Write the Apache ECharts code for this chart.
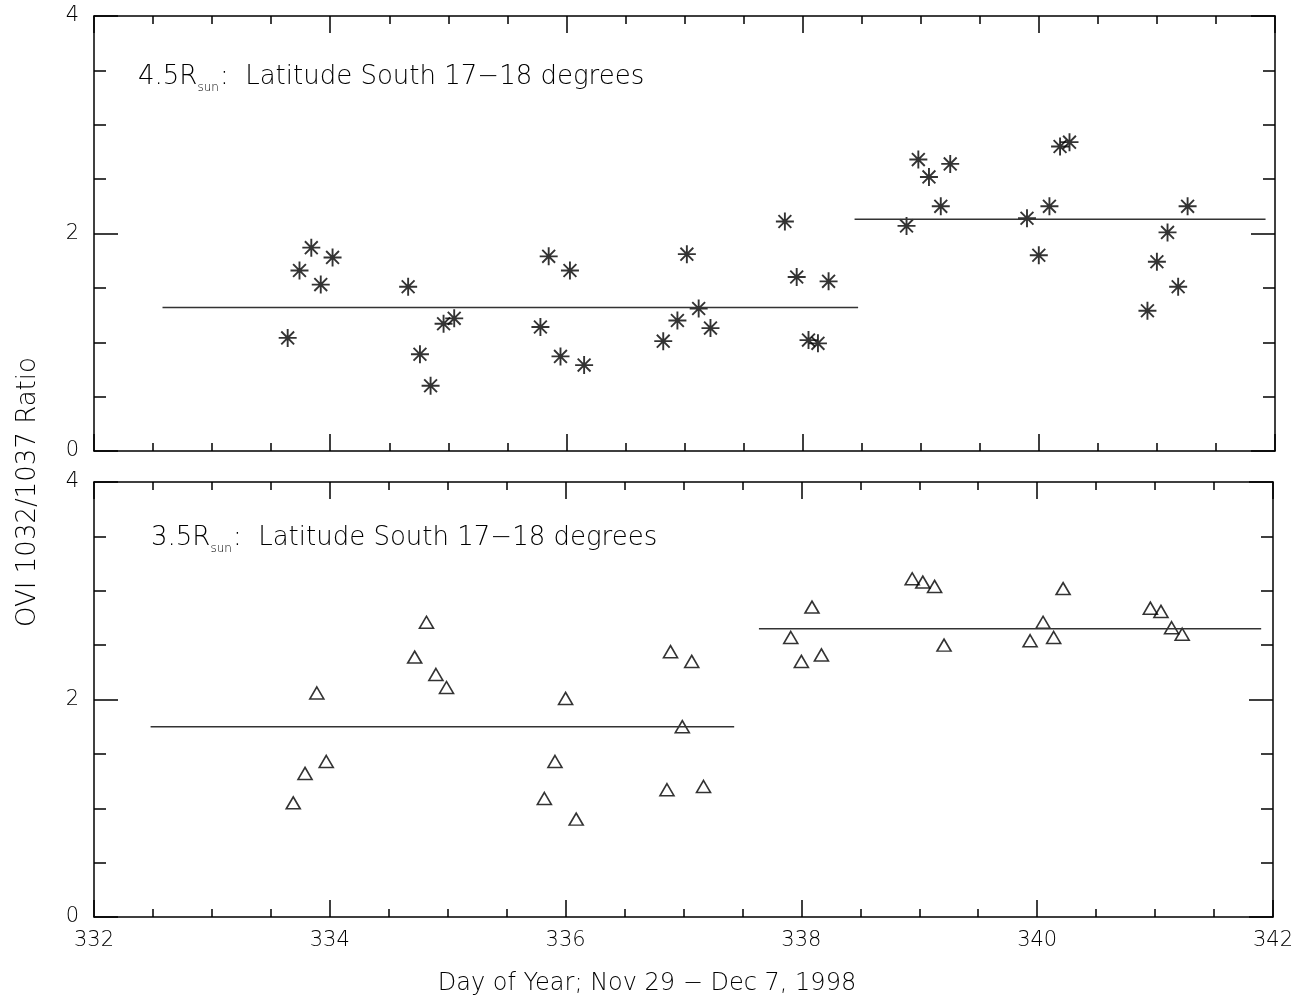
<!DOCTYPE html>
<html lang="en">
<head>
  <meta charset="UTF-8">
  <title>OVI 1032/1037 Ratio</title>
  <script src="https://cdn.jsdelivr.net/npm/echarts@6/dist/echarts.min.js"></script>
</head>
<body style="margin:0">
  <div id="main" style="width:1296px;height:995px;"></div>
  <script>
    // 4.5 Rsun (asterisks)
    var dayTop = [333.64, 333.74, 333.84, 333.92, 334.02, 334.66, 334.76, 334.85, 334.96, 335.05,
      335.78, 335.85, 335.95, 336.03, 336.15, 336.82, 336.94, 337.02, 337.12, 337.22,
      337.85, 337.95, 338.05, 338.13, 338.22, 338.88, 338.98, 339.07, 339.17, 339.25,
      339.90, 340.00, 340.09, 340.18, 340.26, 340.92, 341.00, 341.09, 341.18, 341.26];
    var ratioTop = [1.04, 1.66, 1.87, 1.53, 1.78, 1.51, 0.89, 0.60, 1.17, 1.22,
      1.14, 1.79, 0.87, 1.66, 0.79, 1.01, 1.20, 1.81, 1.31, 1.13,
      2.11, 1.60, 1.02, 0.99, 1.56, 2.07, 2.68, 2.52, 2.25, 2.64,
      2.14, 1.80, 2.25, 2.80, 2.84, 1.29, 1.74, 2.01, 1.51, 2.25];
    // 3.5 Rsun (triangles)
    var dayBot = [333.69, 333.79, 333.89, 333.97, 334.72, 334.82, 334.90, 334.99,
      335.82, 335.91, 336.00, 336.09, 336.86, 336.89, 336.99, 337.07, 337.17,
      337.91, 338.00, 338.09, 338.17, 338.94, 339.03, 339.13, 339.21,
      339.94, 340.05, 340.14, 340.22, 340.96, 341.05, 341.14, 341.23];
    var ratioBot = [1.05, 1.32, 2.06, 1.43, 2.39, 2.71, 2.23, 2.11,
      1.09, 1.43, 2.01, 0.90, 1.17, 2.44, 1.75, 2.35, 1.20,
      2.57, 2.35, 2.85, 2.41, 3.11, 3.08, 3.04, 2.50,
      2.54, 2.71, 2.57, 3.02, 2.84, 2.81, 2.66, 2.60];
    // mean levels: [start day, end day, value]
    var meanTop = [[332.58, 338.47, 1.32], [338.44, 341.92, 2.13]];
    var meanBot = [[332.48, 337.43, 1.75], [337.64, 341.90, 2.65]];
    var xTicks = [332, 334, 336, 338, 340, 342];
    var yTicks = [0, 2, 4];

    var font = 'DejaVu Sans';
    var asterisk = 'path://M0,-8L0,8M-8,0L8,0M-5.7,-5.7L5.7,5.7M-5.7,5.7L5.7,-5.7';

    function pairs(xs, ys) {
      return xs.map(function (x, i) { return [x, ys[i]]; });
    }

    function xAxisCfg(grid, pos, labels) {
      return {
        type: 'value', gridIndex: grid, position: pos,
        min: xTicks[0], max: xTicks[xTicks.length - 1], interval: 2,
        axisLine: { onZero: false, lineStyle: { color: '#000', width: 1.5 } },
        axisTick: { inside: true, length: 17, lineStyle: { color: '#000', width: 1.5 } },
        minorTick: { show: true, splitNumber: 4, length: 8, lineStyle: { color: '#000', width: 1.5 } },
        axisLabel: { show: labels, margin: 13, color: '#000', fontSize: 21, fontFamily: font, fontWeight: 200 },
        splitLine: { show: false }
      };
    }

    function yAxisCfg(grid, pos, labels) {
      return {
        type: 'value', gridIndex: grid, position: pos,
        min: yTicks[0], max: yTicks[yTicks.length - 1], interval: 2,
        axisLine: { onZero: false, lineStyle: { color: '#000', width: 1.5 } },
        axisTick: { inside: true, length: 24, lineStyle: { color: '#000', width: 1.5 } },
        minorTick: { show: true, splitNumber: 4, length: 12, lineStyle: { color: '#000', width: 1.5 } },
        axisLabel: { show: labels, margin: 15, color: '#000', fontSize: 21, fontFamily: font, fontWeight: 200 },
        splitLine: { show: false }
      };
    }

    function meanSeries(segs, x, y) {
      return segs.map(function (s) {
        return {
          type: 'line', xAxisIndex: x, yAxisIndex: y, symbol: 'none', silent: true,
          lineStyle: { color: '#333', width: 1.5 },
          data: [[s[0], s[2]], [s[1], s[2]]]
        };
      });
    }

    function panelTitle(txt, left, top) {
      return {
        text: '{n|' + txt + 'R}{s|sun}{n|:  Latitude South 17\u221218 degrees}',
        left: left, top: top,
        textStyle: {
          rich: {
            n: { fontSize: 26, fontFamily: font, fontWeight: 200, color: '#000', lineHeight: 30, verticalAlign: 'bottom' },
            s: { fontSize: 12, fontFamily: font, fontWeight: 200, color: '#000', lineHeight: 30, verticalAlign: 'bottom', padding: [0, 1, -4, 0] }
          }
        }
      };
    }

    var myChart = echarts.init(document.getElementById('main'));
    var option = {
      backgroundColor: '#fff',
      animation: false,
      title: [panelTitle('4.5', 133, 55), panelTitle('3.5', 146, 516)],
      grid: [
        { left: 94, top: 16, width: 1181, height: 435 },
        { left: 94, top: 482, width: 1181, height: 435 }
      ],
      xAxis: [xAxisCfg(0, 'bottom', false), xAxisCfg(0, 'top', false),
        xAxisCfg(1, 'bottom', true), xAxisCfg(1, 'top', false)],
      yAxis: [yAxisCfg(0, 'left', true), yAxisCfg(0, 'right', false),
        yAxisCfg(1, 'left', true), yAxisCfg(1, 'right', false)],
      graphic: [
        {
          type: 'text', x: 28, y: 492, rotation: Math.PI / 2,
          style: { text: 'OVI 1032/1037 Ratio', font: '200 26px "DejaVu Sans"', fill: '#000', align: 'center', verticalAlign: 'middle' }
        },
        {
          type: 'text', x: 647, y: 984,
          style: { text: 'Day of Year; Nov 29 \u2212 Dec 7, 1998', font: '200 24px "DejaVu Sans"', fill: '#000', align: 'center', verticalAlign: 'middle' }
        }
      ],
      series: [
        {
          type: 'scatter', xAxisIndex: 0, yAxisIndex: 0,
          symbol: asterisk, symbolSize: 18,
          itemStyle: { color: '#000', borderColor: '#000', borderWidth: 1.9 },
          data: pairs(dayTop, ratioTop)
        },
        {
          type: 'scatter', xAxisIndex: 2, yAxisIndex: 2,
          symbol: 'triangle', symbolSize: [14, 12],
          itemStyle: { color: 'rgba(0,0,0,0)', borderColor: '#000', borderWidth: 1.6 },
          data: pairs(dayBot, ratioBot)
        }
      ].concat(meanSeries(meanTop, 0, 0), meanSeries(meanBot, 2, 2))
    };
    myChart.setOption(option);
  </script>
</body>
</html>
